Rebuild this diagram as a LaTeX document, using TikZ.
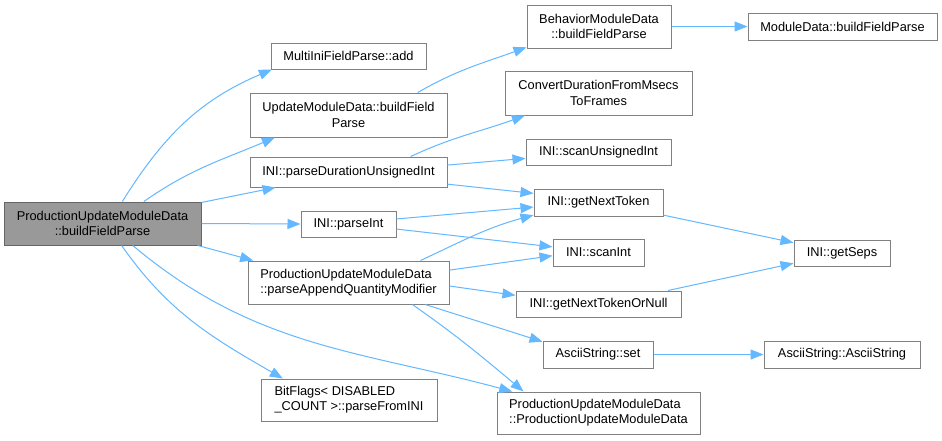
\documentclass[tikz,border=0pt]{standalone}
\usepackage{fontspec}
\setmainfont{Liberation Sans}
\usetikzlibrary{arrows.meta}

\newlength{\pxu}
\setlength{\pxu}{0.75pt}
\definecolor{edgeblue}{RGB}{99,184,255}
\definecolor{boxgray}{RGB}{128,128,128}
\definecolor{maingray}{RGB}{153,153,153}
\definecolor{mainborder}{RGB}{102,102,102}

\begin{document}
\begin{tikzpicture}[
  x=\pxu, y=\pxu,
  box/.style 2 args={draw=boxgray, fill=white, line width=\pxu, inner sep=0pt, minimum width=#1\pxu, minimum height=#2\pxu, align=center, font=\fontsize{9.6}{11.5}\selectfont},
  arrow/.style={-{Triangle[length=9.75pt, width=7.5pt]}, draw=edgeblue, line width=0.75pt}
]
  \fill[white] (0,0) rectangle (942,-440);
  \useasboundingbox (0,0) rectangle (942,-440);

  % Caller
  \node[box={197}{43}, fill=maingray, draw=mainborder] (main) at (102.5,-223.5) {ProductionUpdateModuleData\\::buildFieldParse};

  % First column
  \node[box={155}{26}] (add) at (348.5,-56) {MultiIniFieldParse::add};
  \node[box={197}{44}] (umd) at (348.5,-115) {UpdateModuleData::buildField\\Parse};
  \node[box={197}{30}] (pdur) at (348.5,-172) {INI::parseDurationUnsignedInt};
  \node[box={95}{26}] (pint) at (348.5,-224) {INI::parseInt};
  \node[box={201}{43}, align=left] (pappend) at (348.5,-282.5) {ProductionUpdateModuleData\\::parseAppendQuantityModifier};
  \node[box={176}{42}, align=left] (bitflags) at (349,-400) {BitFlags< DISABLED\\\_COUNT >::parseFromINI};

  % Second column
  \node[box={144}{43}] (bmd) at (599,-26.5) {BehaviorModuleData\\::buildFieldParse};
  \node[box={187}{44}] (conv) at (598.5,-93) {ConvertDurationFromMsecs\\ToFrames};
  \node[box={145}{26}] (scanu) at (598.5,-152) {INI::scanUnsignedInt};
  \node[box={129}{27}] (gnt) at (598.5,-202.5) {INI::getNextToken};
  \node[box={91}{27}] (scani) at (598.5,-252.5) {INI::scanInt};
  \node[box={165}{26}] (gntn) at (598.5,-304) {INI::getNextTokenOrNull};
  \node[box={110}{27}] (aset) at (598,-354.5) {AsciiString::set};
  \node[box={203}{42}, align=left] (pctor) at (598.5,-413) {ProductionUpdateModuleData\\::ProductionUpdateModuleData};

  % Third column
  \node[box={189}{27}] (mdb) at (842.5,-26.5) {ModuleData::buildFieldParse};
  \node[box={96}{26}] (seps) at (842,-253) {INI::getSeps};
  \node[box={156}{27}] (astr) at (842,-354.5) {AsciiString::AsciiString};

  % Calls from the caller
  \draw[arrow] (main.48) to[out=58, in=203] (add.190);
  \draw[arrow] (main.28) to[out=35, in=203] (umd.197);
  \draw[arrow] (main.12) -- (pdur.192);
  \draw[arrow] (main.east) -- (pint.west);
  \draw[arrow] (main.-13) -- (pappend.167);
  \draw[arrow] (main.-49) to[out=-55, in=150] (bitflags.162);
  \draw[arrow] (main.-36) to[out=-40, in=165] (pctor.166);

  % Calls further right
  \draw[arrow] (umd.18) to[out=30, in=200] (bmd.196);
  \draw[arrow] (bmd.east) -- (mdb.west);
  \draw[arrow] (pdur.14) to[out=25, in=200] (conv.197);
  \draw[arrow] (pdur.4) -- (scanu.185);
  \draw[arrow] (pdur.-7) -- (gnt.172);
  \draw[arrow] (pint.6) -- (gnt.184);
  \draw[arrow] (pint.-6) -- (scani.173);
  \draw[arrow] (pappend.17) to[out=25, in=195] (gnt.191);
  \draw[arrow] (pappend.7) -- (scani.184);
  \draw[arrow] (pappend.-2) -- (gntn.174);
  \draw[arrow] (pappend.-16) -- (aset.167);
  \draw[arrow] (pappend.-19) to[out=-35, in=140] (pctor.164);
  \draw[arrow] (gnt.-11) -- (seps.168);
  \draw[arrow] (gntn.11) -- (seps.192);
  \draw[arrow] (aset.east) -- (astr.west);
\end{tikzpicture}
\end{document}
